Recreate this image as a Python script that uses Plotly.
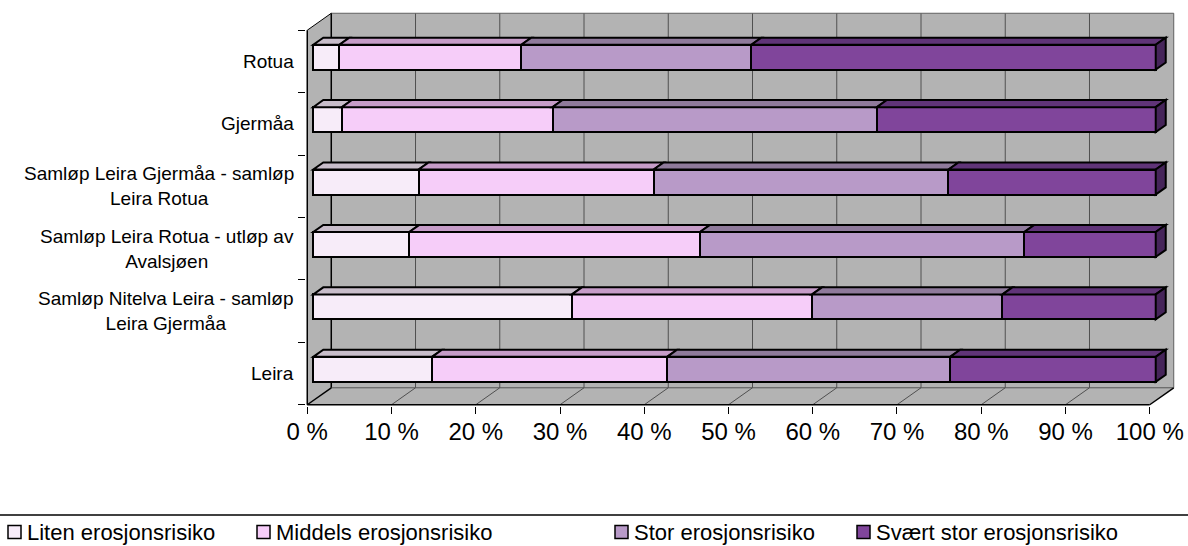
import plotly.graph_objects as go

# Reaches along the river, listed from bottom to top of the chart
categories = [
    "Leira",
    "Samløp Nitelva Leira - samløp Leira Gjermåa",
    "Samløp Leira Rotua - utløp av Avalsjøen",
    "Samløp Leira Gjermåa - samløp Leira Rotua",
    "Gjermåa",
    "Rotua",
]
category_labels = [
    "Leira",
    "Samløp Nitelva Leira - samløp<br>Leira Gjermåa",
    "Samløp Leira Rotua - utløp av<br>Avalsjøen",
    "Samløp Leira Gjermåa - samløp<br>Leira Rotua",
    "Gjermåa",
    "Rotua",
]

series_names = [
    "Liten erosjonsrisiko",
    "Middels erosjonsrisiko",
    "Stor erosjonsrisiko",
    "Svært stor erosjonsrisiko",
]
# Share of each reach (%) in each erosion-risk class
liten = [14.1, 30.7, 11.4, 12.5, 3.4, 3.1]
middels = [27.9, 28.5, 34.5, 27.9, 25.0, 21.6]
stor = [33.6, 22.6, 38.5, 35.0, 38.5, 27.3]
svaert_stor = [24.4, 18.2, 15.6, 24.6, 33.1, 48.0]

tick_values = [0, 10, 20, 30, 40, 50, 60, 70, 80, 90, 100]
tick_labels = [f"{v} %" for v in tick_values]

# Styling
front_colors = ["#f7ecf9", "#f6cdf9", "#b89ac8", "#80459b"]
top_colors = ["#c8bdca", "#c69cc8", "#8f7a9b", "#603478"]
side_color = "#46255a"
WALL = "#b3b3b3"
GRID = "#505050"
FONT = "Liberation Sans, Arial, sans-serif"
EDGE = 2

# Pseudo-3D box geometry, in axis units (x: percent, y: category index)
DX, DY = 2.85, 0.272               # depth of the box
BAR_FRONT, BAR_BACK = 0.25, 0.667  # depth fractions occupied by the bars
BAR_WIDTH = 0.4
PAD_X, PAD_Y = 0.15, 0.02

W, H = 1188, 546
ML, MR, MT, MB = 306, 13, 12, 140
plot_w, plot_h = W - ML - MR, H - MT - MB

n = len(categories)
y_idx = list(range(n))
series = [liten, middels, stor, svaert_stor]

fx0 = -BAR_FRONT * DX           # front-left x
bx0 = fx0 + DX                  # back-left x
fx1, bx1 = 100 + fx0, 100 + bx0
fy0 = -0.5 - BAR_FRONT * DY     # front floor
by0 = fy0 + DY                  # back floor
fy1 = n - 0.5 - BAR_FRONT * DY  # front top of the side wall
by1 = fy1 + DY                  # back top

fig = go.Figure()
for name, vals, col in zip(series_names, series, front_colors):
    fig.add_trace(go.Bar(
        y=y_idx, x=vals, orientation="h", name=name, width=BAR_WIDTH,
        marker=dict(color=col, line=dict(color="black", width=EDGE)),
        showlegend=False,
    ))

shapes = []


def poly(pts, fill, line_color="black", line_width=0, layer="below"):
    d = "M " + " L ".join(f"{x},{y}" for x, y in pts) + " Z"
    shapes.append(dict(type="path", path=d, xref="x", yref="y", fillcolor=fill,
                       line=dict(color=line_color, width=line_width), layer=layer))


def seg(x0, y0, x1, y1, color, width, layer="below"):
    shapes.append(dict(type="line", x0=x0, y0=y0, x1=x1, y1=y1, xref="x", yref="y",
                       line=dict(color=color, width=width), layer=layer))


# Walls and floor
poly([(bx0, by0), (bx1, by0), (bx1, by1), (bx0, by1)], WALL)
poly([(fx0, fy0), (fx0, fy1), (bx0, by1), (bx0, by0)], WALL)
poly([(fx0, fy0), (fx1, fy0), (bx1, by0), (bx0, by0)], WALL)

# Gridlines on the back wall and the floor
for p in tick_values[1:-1]:
    seg(p + bx0, by0, p + bx0, by1, GRID, 1)
    seg(p + fx0, fy0, p + bx0, by0, GRID, 1)
seg(bx0, by0, bx1, by0, GRID, 1)
seg(bx0, by1, bx1, by1, "#606060", 1)
seg(bx1, by0, bx1, by1, "#606060", 1)
seg(bx0, by0, bx0, by1, "black", 1.5)
seg(fx0, fy1, bx0, by1, "black", 1)
seg(fx0, fy0, bx0, by0, "black", 1.5)
seg(fx1, fy0, bx1, by0, "black", 1.5)
seg(fx0, fy0, fx1, fy0, "black", 1.5)
seg(fx0, fy0, fx0, fy1, "black", 1.5)

# Top faces of the stacked segments and the end face of each bar
bdx = (BAR_BACK - BAR_FRONT) * DX
bdy = (BAR_BACK - BAR_FRONT) * DY
for i in y_idx:
    base = 0.0
    yt = i + BAR_WIDTH / 2
    yb = i - BAR_WIDTH / 2
    for vals, tcol in zip(series, top_colors):
        x0, x1 = base, base + vals[i]
        poly([(x0, yt), (x1, yt), (x1 + bdx, yt + bdy), (x0 + bdx, yt + bdy)],
             tcol, "black", EDGE, "above")
        base = x1
    poly([(base, yb), (base, yt), (base + bdx, yt + bdy), (base + bdx, yb + bdy)],
         side_color, "black", EDGE, "above")

# Category labels beside the front edge of the side wall
annotations = []
for i, lab in enumerate(category_labels):
    annotations.append(dict(
        x=fx0, y=i - BAR_FRONT * DY, xref="x", yref="y", text=lab,
        xanchor="right", yanchor="middle", align="center", xshift=-11,
        showarrow=False, font=dict(family=FONT, size=19, color="black"),
    ))


# Legend drawn below the chart, placed in figure pixels
def px_to_paper_x(px):
    return (px - ML) / plot_w


def px_to_paper_y(py):
    return (MT + plot_h - py) / plot_h


legend_x = [8, 257, 615, 857]
legend_y = 532
sw = 13
shapes.append(dict(type="line", xref="paper", yref="paper",
                   x0=px_to_paper_x(0), x1=px_to_paper_x(W),
                   y0=px_to_paper_y(515), y1=px_to_paper_y(515),
                   line=dict(color="black", width=1.5)))
for lx, name, col in zip(legend_x, series_names, front_colors):
    shapes.append(dict(type="rect", xref="paper", yref="paper",
                       x0=px_to_paper_x(lx), x1=px_to_paper_x(lx + sw),
                       y0=px_to_paper_y(legend_y - sw / 2), y1=px_to_paper_y(legend_y + sw / 2),
                       fillcolor=col, line=dict(color="black", width=1.5)))
    annotations.append(dict(
        x=px_to_paper_x(lx + sw + 4), y=px_to_paper_y(legend_y), xref="paper", yref="paper",
        text=name, xanchor="left", yanchor="middle", showarrow=False,
        font=dict(family=FONT, size=22, color="black"),
    ))

fig.update_layout(
    width=W, height=H, barmode="stack", bargap=0,
    margin=dict(l=ML, r=MR, t=MT, b=MB, pad=0, autoexpand=False),
    paper_bgcolor="white", plot_bgcolor="white",
    shapes=shapes, annotations=annotations, showlegend=False,
    font=dict(family=FONT, color="black"),
    xaxis=dict(
        range=[fx0 - PAD_X, bx1 + PAD_X], showgrid=False, zeroline=False, showline=False,
        automargin=False,
        tickmode="array", tickvals=[p + fx0 for p in tick_values], ticktext=tick_labels,
        ticks="outside", ticklen=7, tickwidth=1, tickcolor="black",
        ticklabelstandoff=-3,
        tickfont=dict(family=FONT, size=24, color="black"),
    ),
    yaxis=dict(
        range=[fy0 - PAD_Y, by1 + PAD_Y], showgrid=False, zeroline=False, showline=False,
        automargin=False,
        tickmode="array", tickvals=[], showticklabels=False, ticks="",
        minor=dict(tickmode="array", tickvals=[k - 0.5 - BAR_FRONT * DY for k in range(n + 1)],
                   ticks="outside", ticklen=7, tickwidth=1, tickcolor="black"),
    ),
)

fig.write_html("out.html")
